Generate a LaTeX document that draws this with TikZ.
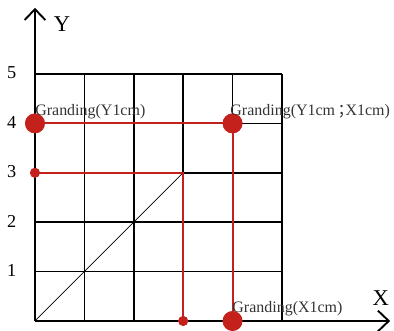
\documentclass[tikz,border=0pt]{standalone}
\usepackage{fontspec}
\setmainfont{Liberation Serif}
\newfontfamily\cjkfont{Noto Sans CJK SC}
\usepackage{tikz}
\usetikzlibrary{positioning,arrows.meta}
\definecolor{deepred}{RGB}{196,32,28}
\tikzset{
    gridline/.style={line width=0.9pt,black},
    axis/.style={line width=1.1pt,-{Straight Barb[length=2.2mm,width=4.2mm]}},
    redline/.style={line width=1.1pt,deepred},
    bigdot/.style={circle,fill=deepred,inner sep=0pt,minimum size=4mm},
    smalldot/.style={circle,fill=deepred,inner sep=0pt,minimum size=2mm},
    tick/.style={font=\fontsize{10.5}{12}\selectfont},
    lbl/.style={font=\fontsize{9.2}{11}\selectfont,text=black!80,inner sep=0pt,anchor=base west},
}
\begin{document}
\begin{tikzpicture}
\useasboundingbox (-0.708,-0.202) rectangle (7.268,6.498);
% grid
\foreach \i in {1,...,5} {
  \draw[gridline] (\i,0) -- (\i,5);
  \draw[gridline] (0,\i) -- (5,\i);
  \node[tick] (t\i) at (-0.47,\i+0.02) {\i};
}
\draw[thin] (0,0) -- (3,3);
% axes
\coordinate (o) at (0,0);
\coordinate (xend) at (7.19,0);
\coordinate (yend) at (0,6.34);
\draw[axis] (o) -- (xend);
\draw[axis] (o) -- (yend);
\node[font=\fontsize{13}{15}\selectfont] (ylab) at (0.55,6.0) {Y};
\node[font=\fontsize{13}{15}\selectfont] (xlab) at (7.0,0.47) {X};
% red points
\node[bigdot] (p04) at (0,4) {};
\node[bigdot] (p44) at (4,4) {};
\node[bigdot] (p40) at (4,0) {};
\node[smalldot] (p03) at (0,3) {};
\node[smalldot] (p30) at (3,0) {};
\coordinate (c33) at (3,3);
\draw[redline] (p04.center) -- (p44.center) -- (p40.center);
\draw[redline] (p03.center) -- (c33) -- (p30.center);
\node[bigdot] at (p04) {};
\node[bigdot] at (p44) {};
\node[bigdot] at (p40) {};
\node[smalldot] at (p03) {};
\node[smalldot] at (p30) {};
% labels
\node[lbl] (ly) at (0,4.15) {Granding(Y1cm)};
\node[lbl] (lxy) at (3.95,4.15) {Granding(Y1cm\hspace{0.15em}{\cjkfont ；}\hspace{-0.5em}X1cm)};
\node[lbl] (lx) at (3.99,0.18) {Granding(X1cm)};
\end{tikzpicture}
\end{document}
